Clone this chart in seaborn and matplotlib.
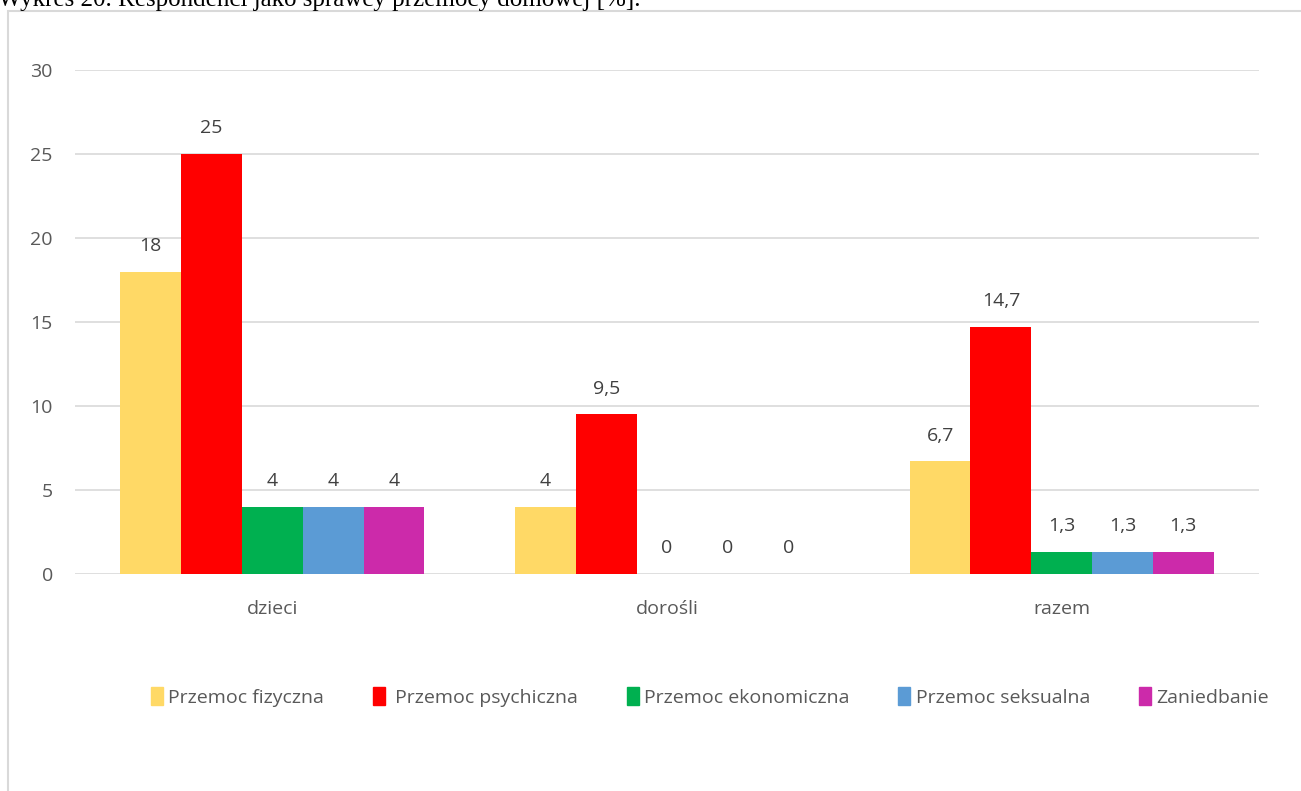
import matplotlib
matplotlib.use("Agg")
import matplotlib.pyplot as plt
import pandas as pd
import seaborn as sns
from matplotlib.patches import Rectangle

groups = ["dzieci", "dorośli", "razem"]
series = ["Przemoc fizyczna", " Przemoc psychiczna", "Przemoc ekonomiczna",
          "Przemoc seksualna", "Zaniedbanie"]
fizyczna = [18, 4, 6.7]
psychiczna = [25, 9.5, 14.7]
ekonomiczna = [4, 0, 1.3]
seksualna = [4, 0, 1.3]
zaniedbanie = [4, 0, 1.3]
colors = ["#FFD966", "#FF0000", "#00B050", "#5B9BD5", "#CC2AAA"]

rows = []
for name, vals in zip(series, [fizyczna, psychiczna, ekonomiczna, seksualna, zaniedbanie]):
    for g, v in zip(groups, vals):
        rows.append({"grupa": g, "typ": name, "wartosc": v})
df = pd.DataFrame(rows)

sns.set_theme(style="white")
plt.rcParams["font.family"] = ["Open Sans", "DejaVu Sans"]

fig = plt.figure(figsize=(13.01, 7.91), dpi=100)
ax = fig.add_axes([75 / 1301, 1 - 574 / 791, 1184 / 1301, 504 / 791])

sns.barplot(data=df, x="grupa", y="wartosc", hue="typ", order=groups,
            hue_order=series, palette=colors, width=0.77, gap=0,
            saturation=1, ax=ax, errorbar=None, linewidth=0)

ax.set_ylim(0, 30)
ax.set_yticks(range(0, 31, 5))
ax.set_xlabel("")
ax.set_ylabel("")
ax.grid(axis="y", color="#D9D9D9", linewidth=1.2)
ax.set_axisbelow(True)
sns.despine(ax=ax, left=True, bottom=True)
ax.tick_params(axis="y", length=0, pad=16, labelsize=14, labelcolor="#595959")
ax.tick_params(axis="x", length=0, pad=19, labelsize=14, labelcolor="#595959")

for cont in ax.containers:
    labels = [f"{b.get_height():g}".replace(".", ",") for b in cont]
    ax.bar_label(cont, labels=labels, padding=12, fontsize=14, color="#404040")

ax.legend_.remove()
handles = [Rectangle((0, 0), 1, 1, color=c) for c in colors]
fig.legend(handles, series, loc="center", bbox_to_anchor=(710 / 1301, 1 - 697 / 791),
           ncol=5, frameon=False, fontsize=14, handlelength=0.6, handleheight=1.0,
           handletextpad=0.3, columnspacing=2.5, labelcolor="#595959")

# ramka wykresu i obcięty podpis nad nią
fig.patches.append(Rectangle((8 / 1301, -0.1), 1.2, 1 - 11 / 791 + 0.1,
                             transform=fig.transFigure, fill=False,
                             edgecolor="#D9D9D9", linewidth=1.5))
fig.text(-2 / 1301, 1 - 6 / 791, "Wykres 20. Respondenci jako sprawcy przemocy domowej [%].",
         family="Liberation Serif", fontsize=18, va="baseline", ha="left", color="black")

fig.savefig("out.png", dpi=100, facecolor="white")
